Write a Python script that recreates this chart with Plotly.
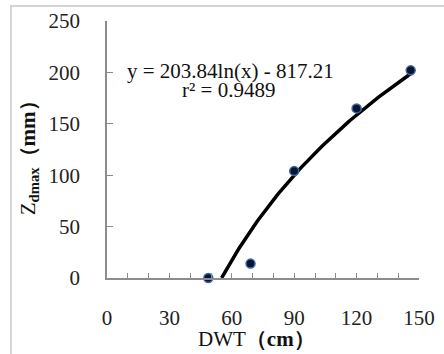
import numpy as np
import plotly.graph_objects as go

# Data
dwt_cm = [48.7, 69, 90, 120, 146]
zdmax_mm = [0, 14, 104, 165, 202]

# Logarithmic trendline coefficients (shown on the chart)
coef_a = 203.84
coef_b = -817.21
r_squared = 0.9489

x_ticks = [0, 30, 60, 90, 120, 150]
y_ticks = [0, 50, 100, 150, 200, 250]

# trendline from the fitted equation (starts where it crosses zero)
x_start = float(np.exp(-coef_b / coef_a))
trend_x = np.linspace(x_start, 146, 120)
trend_y = coef_a * np.log(trend_x) + coef_b

FONT = "Liberation Serif, Times New Roman, serif"

fig = go.Figure()
fig.add_trace(go.Scatter(x=trend_x, y=trend_y, mode="lines",
                         line=dict(color="black", width=3.5), hoverinfo="skip"))
fig.add_trace(go.Scatter(x=dwt_cm, y=zdmax_mm, mode="markers", cliponaxis=False,
                         marker=dict(size=9, color="#0b1430",
                                     line=dict(color="#3a6aa8", width=1.5))))

axis_common = dict(showgrid=False, zeroline=False, showline=True, automargin=False,
                   linecolor="#8c8c8c", linewidth=1.5,
                   ticks="inside", tickcolor="#8c8c8c", tickwidth=1.2,
                   tickfont=dict(family=FONT, size=21, color="#222"))
fig.update_xaxes(range=[0, 150], tickmode="array", tickvals=x_ticks,
                 ticklen=5, ticklabelstandoff=20,
                 minor=dict(dtick=10, ticks="inside", ticklen=5,
                            tickcolor="#8c8c8c", tickwidth=1.2, showgrid=False),
                 **axis_common)
fig.update_yaxes(range=[0, 250], tickmode="array", tickvals=y_ticks,
                 ticklen=6, ticklabelstandoff=21, **axis_common)

fig.update_layout(
    width=444, height=354,
    margin=dict(l=107, r=25, t=21, b=76, autoexpand=False),
    paper_bgcolor="white", plot_bgcolor="white",
    showlegend=False,
    font=dict(family=FONT, color="#111"),
    shapes=[dict(type="rect", xref="paper", yref="paper",
                 x0=-96 / 312, x1=1.2, y0=-0.5, y1=1 + 15 / 257,
                 line=dict(color="#d4d4d4", width=2), layer="above")],
    annotations=[
        dict(text="y = 203.84ln(x) - 817.21", xref="paper", yref="paper",
             x=(230 - 107) / 312, y=(277.7 - 71) / 257, showarrow=False,
             xanchor="center", yanchor="middle",
             font=dict(family=FONT, size=21, color="#111")),
        dict(text="r² = 0.9489", xref="paper", yref="paper",
             x=(228 - 107) / 312, y=(277.7 - 90) / 257, showarrow=False,
             xanchor="center", yanchor="middle",
             font=dict(family=FONT, size=21, color="#111")),
        dict(text="DWT<b>（cm）</b>", xref="paper", yref="paper",
             x=(256 - 107) / 312, y=-(339 - 277.7) / 257, showarrow=False,
             xanchor="center", yanchor="middle",
             font=dict(family=FONT, size=21, color="#111")),
        dict(text="Z<sub><b>dmax</b></sub><b>（mm）</b>", xref="paper", yref="paper",
             x=-(107 - 29) / 312, y=(277.7 - 153) / 257, showarrow=False,
             textangle=-90, xanchor="center", yanchor="middle",
             font=dict(family=FONT, size=21, color="#111")),
    ],
)

fig.write_html("out.html", config={"displayModeBar": False},
               post_script="document.body.style.margin='0';document.body.style.overflow='hidden';")
